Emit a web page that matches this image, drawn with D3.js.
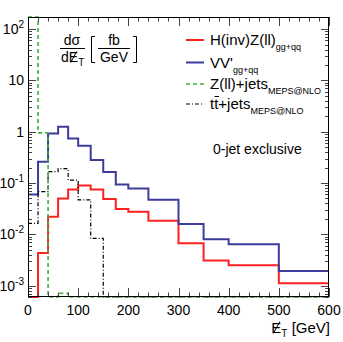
<!DOCTYPE html>
<html>
<head>
<meta charset="utf-8">
<script src="https://cdn.jsdelivr.net/npm/d3@7"></script>
<style>
body { margin: 0; background: #fff; }
svg { display: block; font-family: "Liberation Sans", Arial, sans-serif; }
</style>
</head>
<body>
<div id="chart"></div>
<script>
// chart size
var width = 343;
var height = 342;
var margin = {left: 28, right: 14, top: 17, bottom: 45};

// bin edges in GeV
var binEdges = [0, 20, 40, 60, 80, 100, 125, 150, 175, 200, 240, 300, 350, 400, 500, 600];
// fb/GeV per bin, 0 = empty bin
var hzzValues = [0, 0.0043, 0.022, 0.050, 0.075, 0.089, 0.075, 0.049, 0.031, 0.0276, 0.0184, 0.0067, 0.0031, 0.0025, 0.00111];
var vvValues = [0.060, 0.26, 0.92, 1.25, 0.74, 0.53, 0.28, 0.164, 0.094, 0.078, 0.047, 0.0159, 0.0080, 0.0064, 0.00193];
var zjetsValues = [500, 0.95, 0, 0.00071, 0, 0, 0, 0, 0, 0, 0, 0, 0, 0, 0];
var ttbarValues = [0.0164, 0.068, 0.166, 0.19, 0.114, 0.047, 0.0083, 0, 0, 0, 0, 0, 0, 0, 0];

var xTicks = [0, 100, 200, 300, 400, 500, 600];
var yExponents = [2, 1, 0, -1, -2, -3];

var svg = d3.select("#chart").append("svg")
  .attr("width", width)
  .attr("height", height);

var x = d3.scaleLinear().domain([0, 600]).range([margin.left, width - margin.right]);
var y = d3.scaleLog().domain([6.0e-4, 172]).range([height - margin.bottom, margin.top]).clamp(true);

var x0 = x.range()[0], x1 = x.range()[1];
var yB = y.range()[0], yT = y.range()[1];

//histograms as step lines
function steps(values) {
  var pts = [];
  values.forEach(function(v, i) {
    var val = v > 0 ? v : 1e-9;
    pts.push([binEdges[i], val]);
    pts.push([binEdges[i + 1], val]);
  });
  return pts;
}
var line = d3.line().x(function(d) { return x(d[0]); }).y(function(d) { return y(d[1]); });

var series = [
  {values: hzzValues, color: "#ff2020", width: 2, dash: null},
  {values: vvValues, color: "#3c3c9c", width: 2, dash: null},
  {values: ttbarValues, color: "#000", width: 1.2, dash: "4,2,1,2"},
  {values: zjetsValues, color: "#3fae3f", width: 1.6, dash: "4,3"}
];

svg.append("clipPath").attr("id", "plotclip").append("rect")
  .attr("x", x0).attr("y", yT - 1).attr("width", x1 - x0).attr("height", yB - yT + 2);

var plot = svg.append("g").attr("clip-path", "url(#plotclip)");
series.forEach(function(s) {
  plot.append("path")
    .attr("d", line(steps(s.values)))
    .attr("fill", "none")
    .attr("stroke", s.color)
    .attr("stroke-width", s.width)
    .attr("stroke-dasharray", s.dash);
});

// ticks on all four sides, pointing inward
var tickG = svg.append("g").attr("stroke", "#444").attr("stroke-width", 1);
d3.range(0, 601, 20).forEach(function(v) {
  var major = v % 100 == 0;
  var len = major ? 9 : 4.5;
  var px = Math.round(x(v)) + 0.5;
  tickG.append("line").attr("x1", px).attr("x2", px).attr("y1", yB).attr("y2", yB - len);
  tickG.append("line").attr("x1", px).attr("x2", px).attr("y1", yT).attr("y2", yT + len);
});
for (var e = -4; e <= 2; e++) {
  for (var m = 1; m <= 9; m++) {
    var v = m * Math.pow(10, e);
    if (v < y.domain()[0] || v > y.domain()[1]) continue;
    var len = m == 1 ? 8 : 4;
    var py = Math.round(y(v)) + 0.5;
    tickG.append("line").attr("x1", x0).attr("x2", x0 + len).attr("y1", py).attr("y2", py);
    tickG.append("line").attr("x1", x1).attr("x2", x1 - len).attr("y1", py).attr("y2", py);
  }
}

// frame
svg.append("rect")
  .attr("x", x0 + 0.5).attr("y", yT + 0.5)
  .attr("width", x1 - x0 - 1).attr("height", yB - yT - 1)
  .attr("fill", "none").attr("stroke", "#000").attr("stroke-width", 1);

// x labels
svg.selectAll(".xlab").data(xTicks).enter().append("text")
  .attr("class", "xlab")
  .attr("x", function(d) { return x(d); })
  .attr("y", yB + 18)
  .attr("text-anchor", "middle")
  .attr("font-size", 14)
  .text(function(d) { return d; });

// y labels 10^n
svg.selectAll(".ylab").data(yExponents).enter().append("text")
  .attr("class", "ylab")
  .attr("x", x0 - 4)
  .attr("y", function(d) { return y(Math.pow(10, d)) + 5; })
  .attr("text-anchor", "end")
  .attr("font-size", 14)
  .each(function(d) {
    var t = d3.select(this);
    if (d == 0) { t.text("1"); return; }
    t.append("tspan").text("10");
    if (d != 1) t.append("tspan").attr("dy", -6).attr("font-size", 10).text(d);
  });

function slashE(textSel) {
  // draw a slash over the E of a text element
  var n = textSel.select(".et").node();
  var ext = n.getExtentOfChar ? n.getExtentOfChar(0) : null;
  if (!ext) return;
  svg.append("line")
    .attr("x1", ext.x + ext.width * 0.2).attr("y1", ext.y + ext.height * 0.85)
    .attr("x2", ext.x + ext.width * 0.85).attr("y2", ext.y + ext.height * 0.15)
    .attr("stroke", "#000").attr("stroke-width", 1);
}

// x axis title: slashed E_T [GeV]
var xt = svg.append("text").attr("x", x1 + 1).attr("y", yB + 36)
  .attr("text-anchor", "end").attr("font-size", 15);
xt.append("tspan").attr("class", "et").text("E");
xt.append("tspan").attr("dy", 4).attr("font-size", 10).text("T");
xt.append("tspan").attr("dy", -4).text(" [GeV]");
slashE(xt);

// y axis title: d sigma / d slashE_T [fb / GeV]
var yTitle = svg.append("g").attr("font-size", 14);
yTitle.append("text").attr("x", 72).attr("y", 45).attr("text-anchor", "middle").text("dσ");
yTitle.append("line").attr("x1", 60).attr("x2", 85).attr("y1", 48.5).attr("y2", 48.5)
  .attr("stroke", "#000").attr("stroke-width", 1);
var dt = yTitle.append("text").attr("x", 61).attr("y", 62);
dt.append("tspan").text("d");
dt.append("tspan").attr("class", "et").text("E");
dt.append("tspan").attr("dy", 4).attr("font-size", 10).text("T");
slashE(dt);
yTitle.append("path").attr("d", "M95,36.5 H91.5 V62.5 H95")
  .attr("fill", "none").attr("stroke", "#000").attr("stroke-width", 1);
yTitle.append("text").attr("x", 114).attr("y", 45).attr("text-anchor", "middle").text("fb");
yTitle.append("line").attr("x1", 98).attr("x2", 130).attr("y1", 48.5).attr("y2", 48.5)
  .attr("stroke", "#000").attr("stroke-width", 1);
yTitle.append("text").attr("x", 114).attr("y", 62).attr("text-anchor", "middle").text("GeV");
yTitle.append("path").attr("d", "M133,36.5 H136.5 V62.5 H133")
  .attr("fill", "none").attr("stroke", "#000").attr("stroke-width", 1);

// legend
var legendRows = [
  {main: "H(inv)Z(ll)", sub: "gg+qq", s: series[0], y: 40},
  {main: "VV'", sub: "gg+qq", s: series[1], y: 62.5},
  {main: "Z(ll)+jets", sub: "MEPS@NLO", s: series[3], y: 84},
  {main: "tt+jets", sub: "MEPS@NLO", s: series[2], y: 104}
];
var leg = svg.append("g");
legendRows.forEach(function(r, i) {
  leg.append("line").attr("x1", 186).attr("x2", 204).attr("y1", r.y).attr("y2", r.y)
    .attr("stroke", r.s.color).attr("stroke-width", r.s.width).attr("stroke-dasharray", r.s.dash);
  var t = leg.append("text").attr("x", 210).attr("y", r.y + 5).attr("font-size", 15);
  t.append("tspan").text(r.main);
  t.append("tspan").attr("dy", 5).attr("font-size", 9).text(r.sub);
  if (i == 3) {
    // bar over the second t
    leg.append("line").attr("x1", 214.5).attr("x2", 219).attr("y1", r.y - 7.5).attr("y2", r.y - 7.5)
      .attr("stroke", "#000").attr("stroke-width", 1);
  }
});

svg.append("text").attr("x", 213).attr("y", 154).attr("font-size", 14).text("0-jet exclusive");
</script>
</body>
</html>
